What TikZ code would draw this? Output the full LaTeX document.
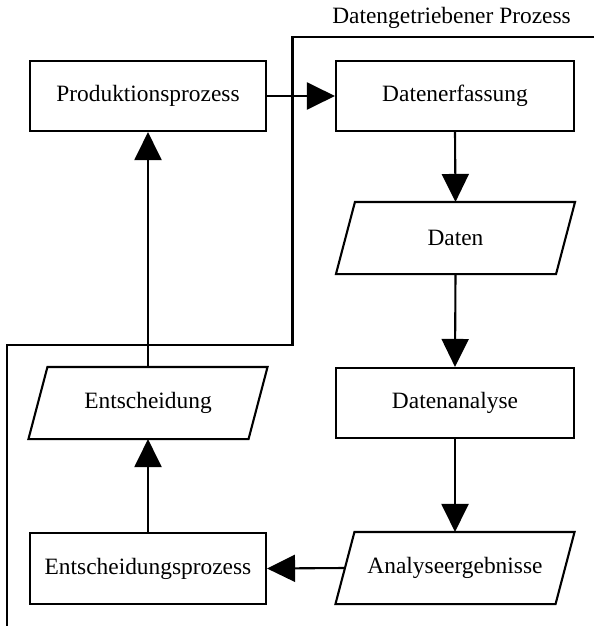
\documentclass[tikz,border=0pt]{standalone}
\usepackage{fontspec}
\setmainfont{Liberation Serif}
\usetikzlibrary{arrows.meta}
\begin{document}
\begin{tikzpicture}[x=1pt,y=-1pt,
  line width=2.1pt,
  every node/.style={font=\fontsize{23.4}{27}\selectfont},
  procbox/.style={draw, rectangle, minimum width=236pt, minimum height=70pt, inner sep=0pt},
  databox/.style={rectangle, minimum width=218pt, minimum height=70pt, inner sep=0pt},
  flow/.style={-{Triangle[length=28pt,width=27pt]}},
  bound/.style={line width=2.1pt}]
\useasboundingbox (0,0) rectangle (594,626);
% boundary
\node (lbl) at (451.5,18) {Datengetriebener Prozess};
\coordinate (b0) at (594,37);
\coordinate (b1) at (292.5,37);
\coordinate (b2) at (292.5,345);
\coordinate (b3) at (7,345);
\coordinate (b4) at (7,626);
\draw[bound] (b0) -- (b1) -- (b2) -- (b3) -- (b4);
% nodes
\node[procbox] (prod) at (148,96) {Produktionsprozess};
\node[procbox, minimum width=238pt] (erf) at (455,96) {Datenerfassung};
\node[databox] (daten) at (455.5,238) {Daten};
\node[procbox, minimum width=238pt] (ana) at (455,403) {Datenanalyse};
\node[databox] (erg) at (455,568) {Analyseergebnisse};
\node[procbox, minimum height=71pt] (eproz) at (148,568.5) {Entscheidungsprozess};
\node[databox] (ent) at (148,403) {Entscheidung};
% parallelogram outlines
\foreach \n in {daten,erg,ent}{
  \draw ([xshift=9.5pt]\n.north west) -- ([xshift=9.5pt]\n.north east)
     -- ([xshift=-9.5pt]\n.south east) -- ([xshift=-9.5pt]\n.south west) -- cycle;
}
% connectors
\draw[flow] (prod.east) -- (erf.west);
\draw[flow] (erf.south) -- (daten.north);
\draw[flow] (daten.south) -- (ana.north);
\draw[flow] (ana.south) -- (erg.north);
\draw[flow] (erg.west) -- (eproz.east);
\draw[flow] (eproz.north) -- (ent.south);
\draw[flow] (ent.north) -- (prod.south);
\end{tikzpicture}
\end{document}
